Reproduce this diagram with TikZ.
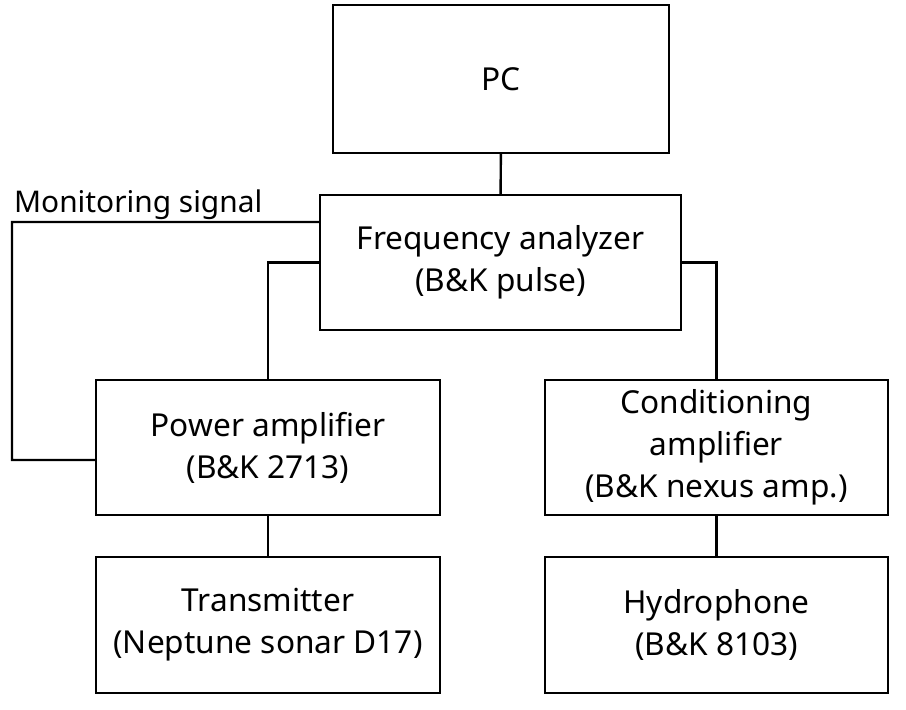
\documentclass[tikz,border=0pt]{standalone}
\usepackage{fontspec}
\setmainfont{Noto Sans}
\usetikzlibrary{positioning}
\begin{document}
\begin{tikzpicture}[
    block/.style={rectangle, draw, line width=1.4pt, align=center, font=\fontsize{18}{24}\selectfont},
    link/.style={line width=1.4pt},
    every node/.append style={inner sep=2pt}
]
    \useasboundingbox (0,0) rectangle (18.12,-14.2);
    % Blocks
    \node[block, minimum width=6.72cm, minimum height=2.96cm] at (10.02,-1.58) (pc) {PC};
    \node[block, minimum width=7.22cm, minimum height=2.7cm] at (10.01,-5.25) (freq) {Frequency analyzer\\(B\&K pulse)};
    \node[block, minimum width=6.88cm, minimum height=2.7cm] at (5.36,-8.95) (power) {Power amplifier\\(B\&K 2713)};
    \node[block, minimum width=6.86cm, minimum height=2.7cm] at (14.33,-8.95) (cond) {Conditioning\\amplifier\\(B\&K nexus amp.)};
    \node[block, minimum width=6.88cm, minimum height=2.72cm] at (5.36,-12.5) (trans) {Transmitter\\(Neptune sonar D17)};
    \node[block, minimum width=6.86cm, minimum height=2.72cm] at (14.33,-12.5) (hydro) {Hydrophone\\(B\&K 8103)};
    \coordinate (mon) at (0.24,-4.44);

    % Connections
    \draw[link] (pc) -- (freq);
    \draw[link] (freq.west) -| (power.north);
    \draw[link] (freq.east) -| (cond.north);
    \draw[link] (power) -- (trans);
    \draw[link] (cond) -- (hydro);
    \draw[link] ([yshift=0.81cm]freq.west) -- (mon) |- ([yshift=-0.25cm]power.west);
    \node[anchor=south west, inner sep=1pt, font=\fontsize{17}{22}\selectfont] at (mon) (monlabel) {Monitoring signal};
\end{tikzpicture}
\end{document}
